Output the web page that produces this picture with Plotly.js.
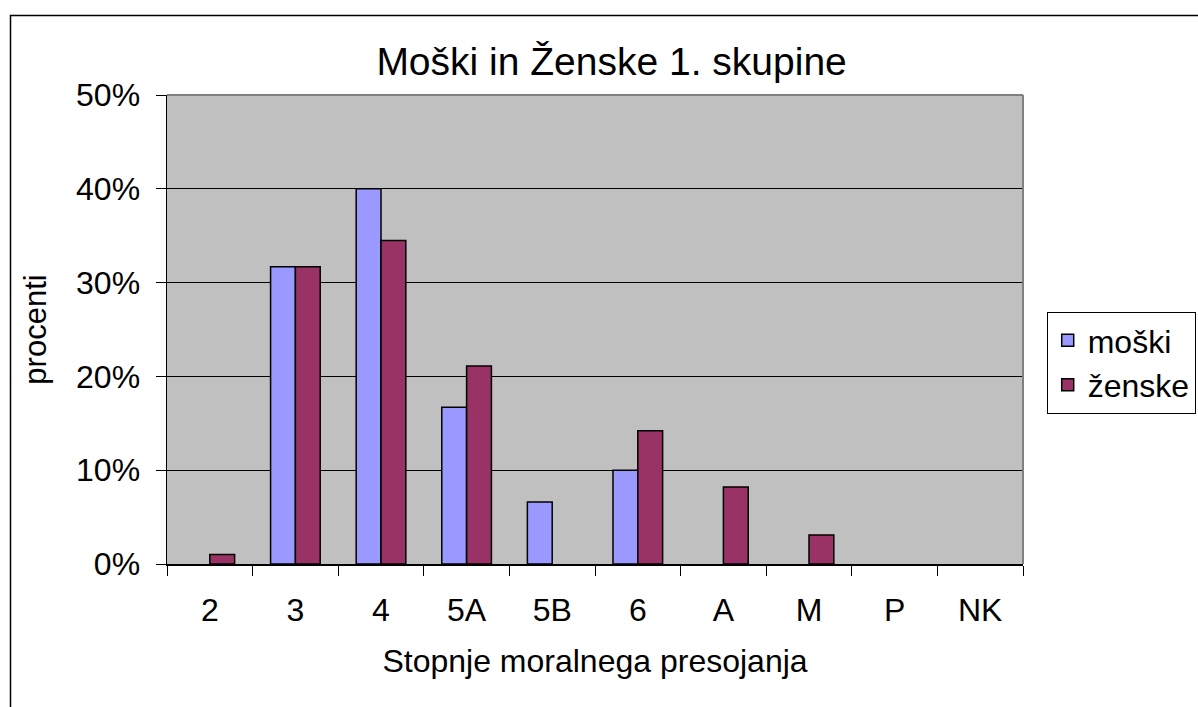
<!DOCTYPE html>
<html>
<head>
<meta charset="utf-8">
<script src="https://cdn.plot.ly/plotly-3.0.1.min.js"></script>
<style>
  html, body { margin: 0; padding: 0; background: #ffffff; }
  #chart { width: 1198px; height: 707px; }
</style>
</head>
<body>
<div id="chart"></div>
<script>
// Data (null = no bar drawn)
const categories = ["2", "3", "4", "5A", "5B", "6", "A", "M", "P", "NK"];
const moski  = [null, 0.317, 0.400, 0.167, 0.066, 0.100, null, null, null, null];
const zenske = [0.010, 0.317, 0.345, 0.211, null, 0.142, 0.082, 0.031, null, null];
const seriesNames = ["moški", "ženske"];
const titleText = "Moški in Ženske 1. skupine";
const xTitle = "Stopnje moralnega presojanja";
const yTitle = "procenti";

const FONT = "'Liberation Sans', Arial, Helvetica, sans-serif";

const traces = [
  {
    type: "bar", name: seriesNames[0], x: categories, y: moski,
    marker: { color: "#9999FF", line: { color: "#000000", width: 1.5 } },
    hoverinfo: "x+y"
  },
  {
    type: "bar", name: seriesNames[1], x: categories, y: zenske,
    marker: { color: "#993366", line: { color: "#000000", width: 1.5 } },
    hoverinfo: "x+y"
  }
];

const layout = {
  width: 1198, height: 707,
  margin: { l: 167, r: 175, t: 95, b: 143, pad: 0, autoexpand: false },
  paper_bgcolor: "#ffffff",
  plot_bgcolor: "#C0C0C0",
  font: { family: FONT, color: "#000000", size: 32 },
  barmode: "group",
  bargap: 0.42,
  bargroupgap: 0,
  title: {
    text: titleText,
    font: { family: FONT, size: 39, color: "#000000" },
    xref: "container", x: 0.5105, xanchor: "center",
    yref: "container", y: 0.913, yanchor: "middle"
  },
  xaxis: {
    type: "category",
    tickson: "boundaries",
    ticks: "outside", ticklen: 10, tickwidth: 1, tickcolor: "#000000",
    showline: true, linecolor: "#000000", linewidth: 1.5,
    showgrid: false, zeroline: false,
    tickfont: { family: FONT, size: 32, color: "#000000" },
    ticklabelstandoff: 17,
    title: { text: xTitle, font: { family: FONT, size: 32, color: "#000000" }, standoff: 22 },
    automargin: false,
    fixedrange: true
  },
  yaxis: {
    range: [0, 0.5],
    dtick: 0.1, tick0: 0,
    tickformat: ".0%",
    ticks: "outside", ticklen: 10, tickwidth: 1, tickcolor: "#000000",
    showline: true, linecolor: "#000000", linewidth: 1.5,
    showgrid: true, gridcolor: "#000000", gridwidth: 1,
    zeroline: false,
    tickfont: { family: FONT, size: 32, color: "#000000" },
    ticklabelstandoff: 9,
    title: { text: yTitle, font: { family: FONT, size: 31, color: "#000000" }, standoff: 20 },
    automargin: false,
    fixedrange: true
  },
  legend: {
    x: 1.0277, xanchor: "left",
    y: 0.5375, yanchor: "top",
    bgcolor: "#ffffff",
    bordercolor: "#000000", borderwidth: 1,
    font: { family: FONT, size: 32, color: "#000000" },
    traceorder: "normal",
    itemclick: false, itemdoubleclick: false
  },
  shapes: [
    // plot area border (top and right), grey
    { type: "line", xref: "paper", yref: "paper", x0: 0, x1: 1, y0: 1, y1: 1,
      line: { color: "#808080", width: 2 }, layer: "above" },
    { type: "line", xref: "paper", yref: "paper", x0: 1, x1: 1, y0: 0, y1: 1,
      line: { color: "#808080", width: 2 }, layer: "above" },
    // outer chart-area border
    { type: "rect", xref: "paper", yref: "paper",
      x0: (10.5 - 167) / 856, x1: (1210 - 167) / 856,
      y0: -(720 - 564) / 469, y1: 1 + (95 - 15.5) / 469,
      line: { color: "#000000", width: 1.5 }, fillcolor: "rgba(0,0,0,0)", layer: "above" }
  ],
  showlegend: true
};

Plotly.newPlot("chart", traces, layout, { displayModeBar: false, staticPlot: true });
</script>
</body>
</html>
